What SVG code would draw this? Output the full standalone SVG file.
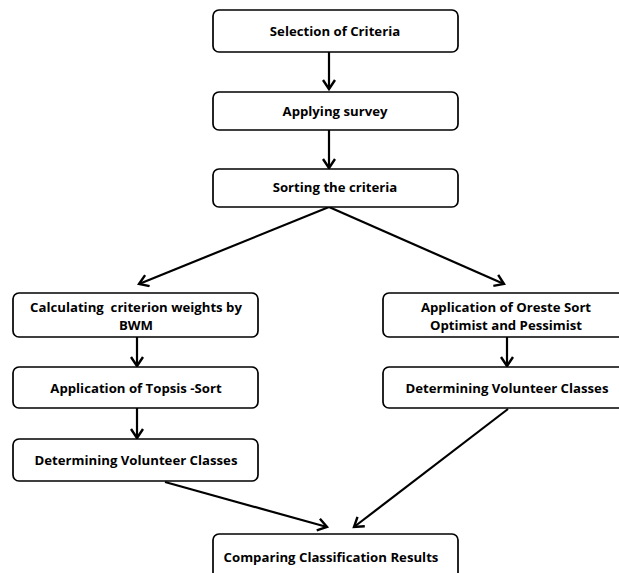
<svg xmlns="http://www.w3.org/2000/svg" width="619" height="573" viewBox="0 0 619 573">
<style>
.box{fill:#fff;stroke:#000;stroke-width:1.7}
.t{font-family:"Open Sans","Liberation Sans",sans-serif;font-weight:bold;font-size:13.2px;fill:#000;text-anchor:middle}
.c{stroke:#000;stroke-width:2.2;fill:none}
</style>
<defs>
<marker id="ah" markerUnits="userSpaceOnUse" markerWidth="16" markerHeight="14" refX="10" refY="7" orient="auto" viewBox="0 0 16 14">
<path d="M1,1 L10,7 L1,13" fill="none" stroke="#000" stroke-width="2.4"/>
</marker>
</defs>
<rect width="619" height="573" fill="#fff"/>
<g id="connectors">
<line class="c" x1="329" y1="52" x2="329" y2="89" marker-end="url(#ah)"/>
<line class="c" x1="329" y1="130" x2="329" y2="168" marker-end="url(#ah)"/>
<line class="c" x1="329" y1="207" x2="139" y2="284" marker-end="url(#ah)"/>
<line class="c" x1="329" y1="207" x2="504" y2="284" marker-end="url(#ah)"/>
<line class="c" x1="137" y1="337" x2="137" y2="366" marker-end="url(#ah)"/>
<line class="c" x1="137" y1="408" x2="137" y2="438" marker-end="url(#ah)"/>
<line class="c" x1="507" y1="337" x2="507" y2="366" marker-end="url(#ah)"/>
<line class="c" x1="165" y1="482" x2="327" y2="527" marker-end="url(#ah)"/>
<line class="c" x1="508" y1="409" x2="354" y2="527" marker-end="url(#ah)"/>
</g>
<g id="n1"><rect class="box" x="213" y="10" width="245" height="42" rx="6"/><text class="t" x="335" y="36">Selection of Criteria</text></g>
<g id="n2"><rect class="box" x="213" y="92" width="245" height="38" rx="6"/><text class="t" x="335" y="116">Applying survey</text></g>
<g id="n3"><rect class="box" x="213" y="169" width="245" height="38" rx="6"/><text class="t" x="335" y="192">Sorting the criteria</text></g>
<g id="n4"><rect class="box" x="13" y="293" width="245" height="44" rx="6"/><text class="t" x="136" y="311.5" xml:space="preserve" style="white-space:pre">Calculating  criterion weights by</text><text class="t" x="136" y="329.5">BWM</text></g>
<g id="n5"><rect class="box" x="13" y="367" width="245" height="41" rx="6"/><text class="t" x="136" y="393">Application of Topsis -Sort</text></g>
<g id="n6"><rect class="box" x="13" y="439" width="245" height="42" rx="6"/><text class="t" x="136" y="465">Determining Volunteer Classes</text></g>
<g id="n7"><rect class="box" x="383" y="293" width="246" height="44" rx="6"/><text class="t" x="506" y="311.5">Application of Oreste Sort</text><text class="t" x="506" y="329.5">Optimist and Pessimist</text></g>
<g id="n8"><rect class="box" x="383" y="367" width="246" height="41" rx="6"/><text class="t" x="507" y="393">Determining Volunteer Classes</text></g>
<g id="n9"><rect class="box" x="213" y="534" width="245" height="45" rx="6"/><text class="t" x="331" y="562">Comparing Classification Results</text></g>
</svg>
